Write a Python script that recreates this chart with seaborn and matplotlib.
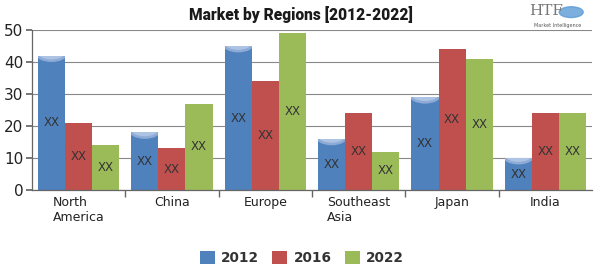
import matplotlib
matplotlib.use("Agg")
import matplotlib.pyplot as plt
import seaborn as sns
import pandas as pd
from matplotlib.patches import Patch, Ellipse

regions = ["North\nAmerica", "China", "Europe", "Southeast\nAsia", "Japan", "India"]
years = ["2012", "2016", "2022"]
v2012 = [42, 18, 45, 16, 29, 10]
v2016 = [21, 13, 34, 24, 44, 24]
v2022 = [14, 27, 49, 12, 41, 24]
colors = ["#4F81BD", "#C0504D", "#9BBB59"]

rows = []
for yr, vals in zip(years, [v2012, v2016, v2022]):
    for r, v in zip(regions, vals):
        rows.append({"Region": r, "Year": yr, "Value": v})
df = pd.DataFrame(rows)

sns.set_theme(style="white")
plt.rcParams['font.family'] = ['DejaVu Sans']

fig = plt.figure(figsize=(6, 2.7), dpi=100)
ax = fig.add_axes([0.053, 0.296, 0.934, 0.593])

sns.barplot(data=df, x="Region", y="Value", hue="Year", palette=colors,
            width=0.87, gap=0, ax=ax, legend=False, saturation=1,
            edgecolor="none", linewidth=0)

# bowl-shaped light cap on the blue bars
for bar in ax.containers[0]:
    x0 = bar.get_x()
    w = bar.get_width()
    h = bar.get_height()
    z = bar.get_zorder()
    outer = Ellipse((x0 + w / 2, h + 0.5), w * 1.15, 5.0, facecolor="#8DABD6",
                    edgecolor="none", zorder=z + 0.1)
    ax.add_patch(outer)
    outer.set_clip_path(bar)
    inner = Ellipse((x0 + w / 2, h + 0.9), w * 1.0, 4.2, facecolor="#ACC3E3",
                    edgecolor="none", zorder=z + 0.2)
    ax.add_patch(inner)
    inner.set_clip_path(bar)

for cont in ax.containers:
    ax.bar_label(cont, labels=["XX"] * len(cont), label_type="center",
                 fontsize=8.5, color="#333333", zorder=5)

ax.set_ylim(0, 50)
ax.set_xlim(-0.5, len(regions) - 0.5)
ax.set_yticks([0, 10, 20, 30, 40, 50])
ax.yaxis.grid(True, color="#888888", linewidth=0.8)
ax.set_axisbelow(True)
ax.set_xlabel("")
ax.set_ylabel("")
ax.tick_params(axis="y", labelsize=11, length=4, color="#666666", pad=2, left=True, labelcolor="#222222")
ax.tick_params(axis="x", labelsize=9, length=0, pad=4, labelcolor="#222222")
ax.set_xticks([i + 0.5 for i in range(len(regions) - 1)], minor=True)
ax.tick_params(axis="x", which="minor", length=5, color="#666666", bottom=True)
for lab in ax.get_xticklabels():
    lab.set_horizontalalignment("center")
    lab.set_multialignment("left")
for s in ["top", "right"]:
    ax.spines[s].set_visible(False)
for s in ["left", "bottom"]:
    ax.spines[s].set_color("#666666")
    ax.spines[s].set_linewidth(0.9)

fig.text(0.502, 0.945, "Market by Regions [2012-2022]", ha="center", va="center",
         fontsize=11.2, fontweight="black", family=["Roboto", "DejaVu Sans"], color="#1a1a1a")
fig.text(0.91, 0.96, "HTF", ha="center", va="center", fontsize=11,
         family="DejaVu Serif", color="#777777")
fig.text(0.93, 0.905, "Market Intelligence", ha="center", va="center", fontsize=3.5,
         color="#555555")
fig.patches.append(plt.Circle((0.952, 0.955), 0.02, transform=fig.transFigure,
                              color="#5B9BD5", alpha=0.8))

handles = [Patch(facecolor=c, edgecolor="none") for c in colors]
fig.legend(handles, years, loc="center", bbox_to_anchor=(0.503, 0.045), ncol=3,
           frameon=False, prop={"weight": "bold", "size": 9.8}, handlelength=1.1,
           handleheight=1.15, columnspacing=1.0, handletextpad=0.45, labelcolor="#333333")

fig.savefig("out.png", dpi=100)
